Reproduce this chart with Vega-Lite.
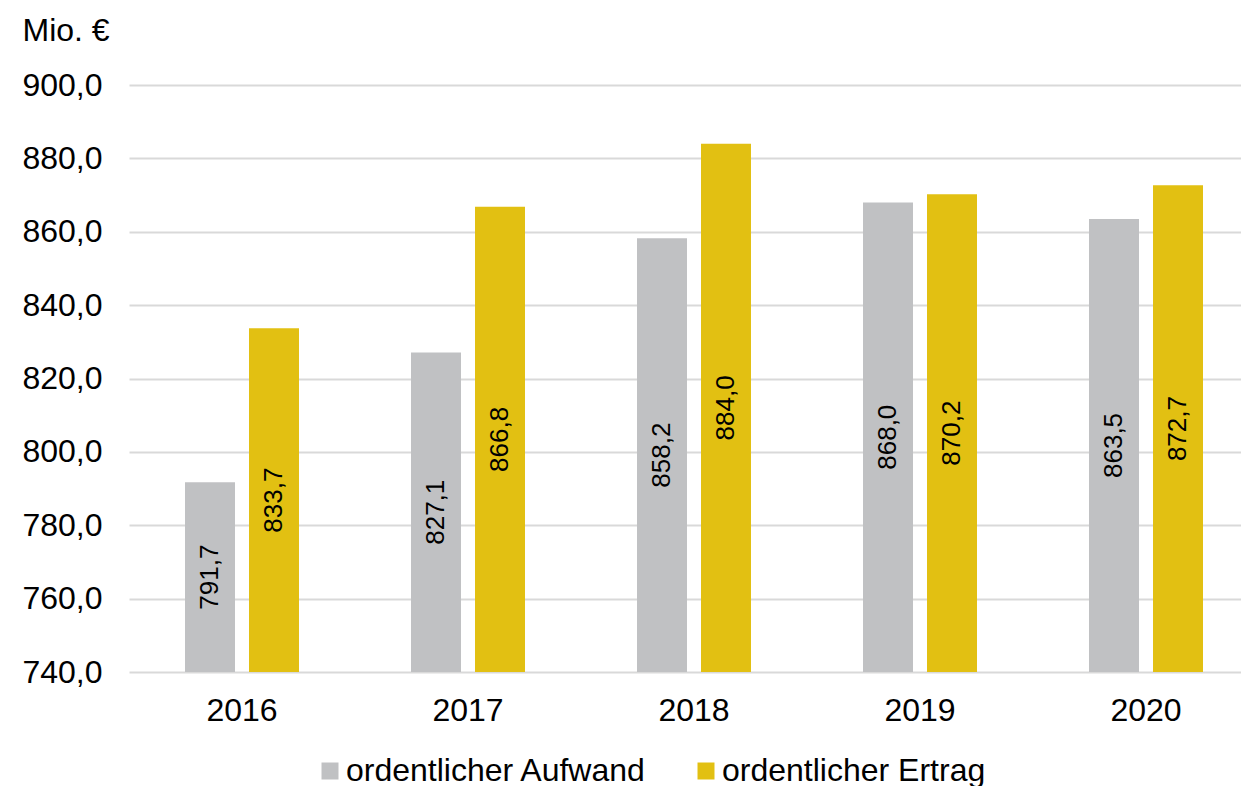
{
  "$schema": "https://vega.github.io/schema/vega-lite/v6.json",
  "width": 1112,
  "height": 587,
  "autosize": {"type": "none"},
  "padding": {"left": 129, "top": 85, "right": 0, "bottom": 114},
  "background": "white",
  "config": {
    "locale": {"number": {"decimal": ",", "thousands": ".", "grouping": [3], "currency": ["", " €"]}},
    "font": "Liberation Sans",
    "view": {"stroke": null}
  },
  "data": {
    "values": [
      {"Jahr": "2016", "Art": "ordentlicher Aufwand", "Wert": 791.7},
      {"Jahr": "2016", "Art": "ordentlicher Ertrag", "Wert": 833.7},
      {"Jahr": "2017", "Art": "ordentlicher Aufwand", "Wert": 827.1},
      {"Jahr": "2017", "Art": "ordentlicher Ertrag", "Wert": 866.8},
      {"Jahr": "2018", "Art": "ordentlicher Aufwand", "Wert": 858.2},
      {"Jahr": "2018", "Art": "ordentlicher Ertrag", "Wert": 884.0},
      {"Jahr": "2019", "Art": "ordentlicher Aufwand", "Wert": 868.0},
      {"Jahr": "2019", "Art": "ordentlicher Ertrag", "Wert": 870.2},
      {"Jahr": "2020", "Art": "ordentlicher Aufwand", "Wert": 863.5},
      {"Jahr": "2020", "Art": "ordentlicher Ertrag", "Wert": 872.7}
    ]
  },
  "encoding": {
    "x": {
      "field": "Jahr",
      "type": "nominal",
      "scale": {"range": [0, 1130], "paddingInner": 0, "paddingOuter": 0},
      "axis": {
        "title": null,
        "domain": false,
        "ticks": false,
        "grid": false,
        "labelAngle": 0,
        "labelFontSize": 32,
        "labelColor": "black",
        "labelPadding": 23
      }
    },
    "xOffset": {
      "field": "Art",
      "type": "nominal",
      "sort": ["ordentlicher Aufwand", "ordentlicher Ertrag"],
      "scale": {"paddingInner": 0.219, "paddingOuter": 0.875}
    }
  },
  "layer": [
    {
      "mark": {"type": "bar"},
      "encoding": {
        "y": {
          "field": "Wert",
          "type": "quantitative",
          "scale": {"domain": [740, 900], "zero": false, "nice": false},
          "axis": {
            "values": [740, 760, 780, 800, 820, 840, 860, 880, 900],
            "format": ".1f",
            "grid": true,
            "gridColor": "#D9D9D9",
            "gridWidth": 2,
            "domain": false,
            "ticks": false,
            "labelFontSize": 32,
            "labelColor": "black",
            "labelPadding": 27,
            "title": "Mio. €",
            "titleAngle": 0,
            "titleAlign": "left",
            "titleBaseline": "alphabetic",
            "titleX": -107,
            "titleY": -45,
            "titleFontSize": 32,
            "titleFontWeight": "normal",
            "titleColor": "black"
          }
        },
        "y2": {"datum": 740},
        "color": {
          "field": "Art",
          "type": "nominal",
          "sort": ["ordentlicher Aufwand", "ordentlicher Ertrag"],
          "scale": {"range": ["#C0C1C3", "#E2C012"]},
          "legend": {
            "orient": "none",
            "legendX": 185,
            "legendY": 670,
            "direction": "horizontal",
            "title": null,
            "symbolType": "square",
            "symbolSize": 289,
            "symbolStrokeWidth": 0,
            "labelFontSize": 32,
            "labelColor": "black",
            "labelOffset": 0,
            "labelLimit": 0,
            "columnPadding": 43,
            "padding": 0
          }
        }
      }
    },
    {
      "mark": {"type": "text", "angle": -90, "align": "center", "baseline": "middle", "fontSize": 26, "color": "black"},
      "encoding": {
        "y": {
          "field": "Wert",
          "type": "quantitative",
          "scale": {"domain": [740, 1060], "zero": false, "nice": false},
          "axis": null
        },
        "text": {"field": "Wert", "type": "quantitative", "format": ".1f"}
      }
    }
  ],
  "resolve": {"scale": {"y": "independent"}}
}
